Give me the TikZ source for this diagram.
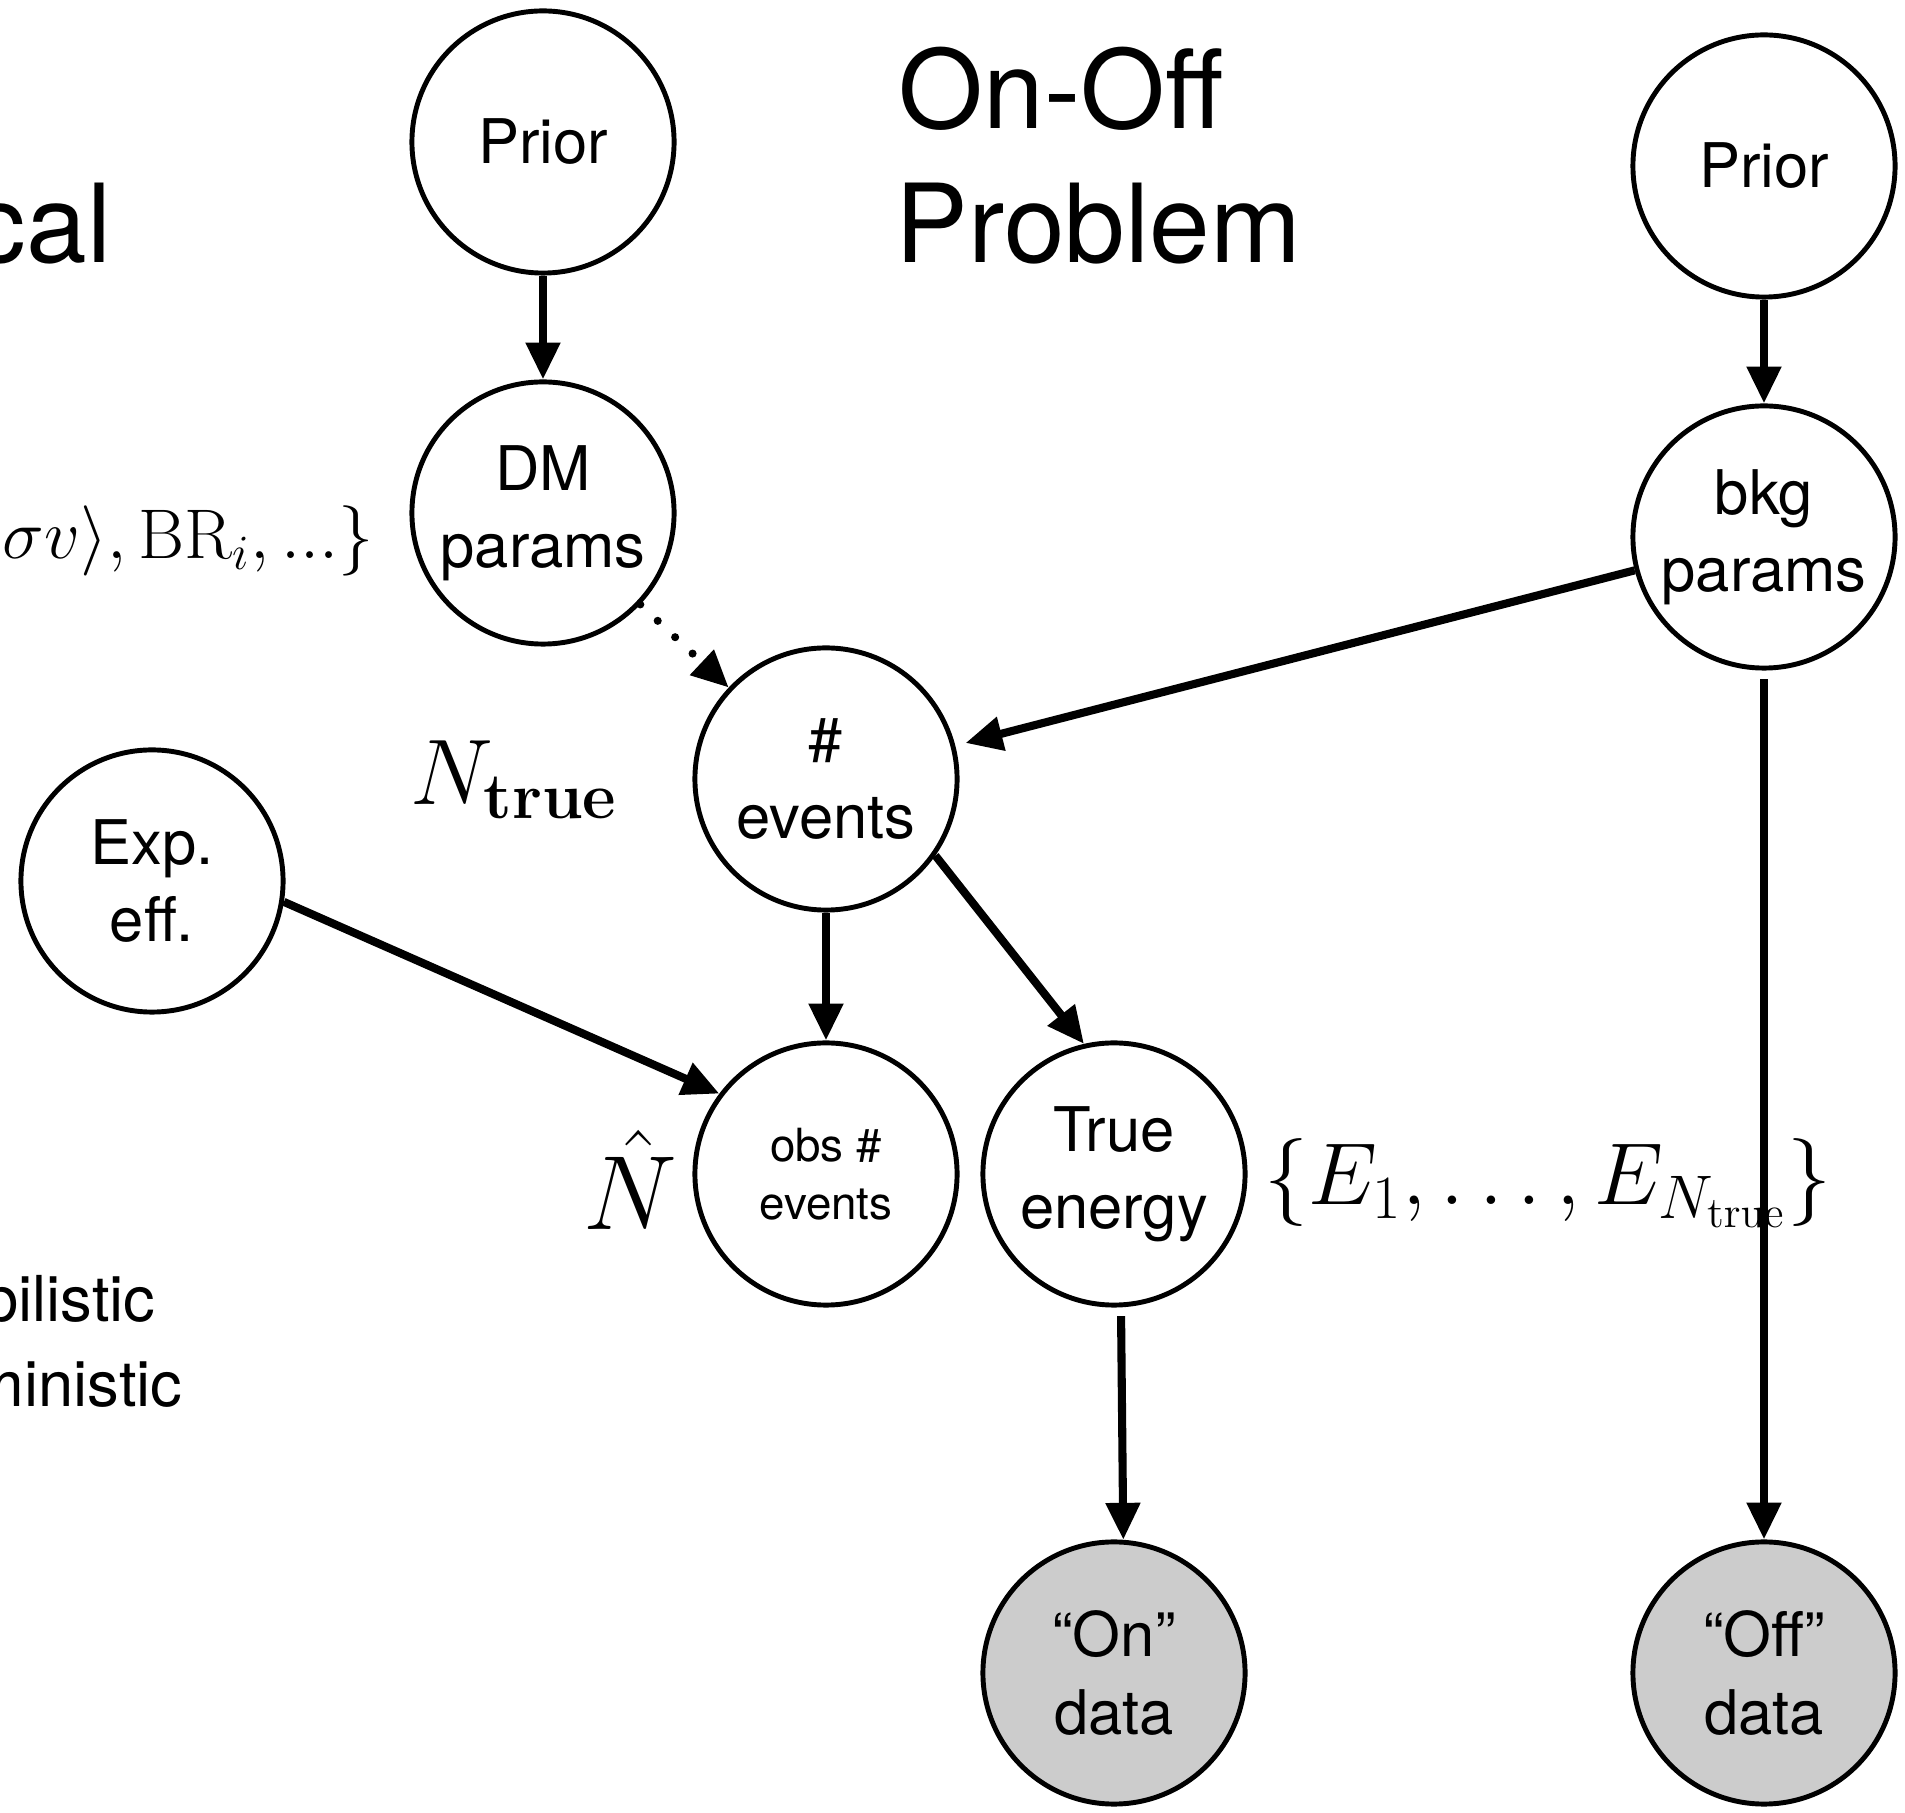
\RequirePackage{fix-cm}
\documentclass[tikz,border=0pt]{standalone}
\usepackage[no-math]{fontspec}
\newfontfamily\hel{TeX Gyre Heros}
\usetikzlibrary{arrows.meta}
\definecolor{obsgray}{RGB}{204,204,204}
\begin{document}
\begin{tikzpicture}[x=0.01cm,y=-0.01cm,
  var/.style={circle,draw,line width=1.4pt,minimum size=2.62cm,inner sep=0pt,align=center,
    font=\hel\fontsize{17.5}{22}\selectfont},
  obsv/.style={var,fill=obsgray},
  arr/.style={line width=2.3pt,-{Triangle[length=10.5pt,width=9.4pt]}},
  dotarr/.style={arr,line cap=round,dash pattern=on 0pt off 6.8pt},
  lbl/.style={inner sep=0pt},
  bigtxt/.style={lbl,font=\hel\fontsize{31}{38}\selectfont},
  midtxt/.style={lbl,font=\hel\fontsize{18}{22}\selectfont}]
\useasboundingbox (0,0) rectangle (1905,1813);

% text labels
\node[bigtxt,anchor=base east] (cal) at (112,263) {cal};
\node[bigtxt,anchor=base west] (t1) at (898,129) {On-Off};
\node[bigtxt,anchor=base west] (t2) at (895,263) {Problem};
\node[lbl,anchor=base west,font=\fontsize{20}{24}\selectfont] (dmpar) at (2,559) {$\sigma v\rangle, \mathrm{BR}_i, ...\}$};
\node[lbl,anchor=base west,font=\fontsize{26.5}{30}\selectfont] (ntrue) at (410,805) {$N_{\mathbf{true}}$};
\node[lbl,anchor=base west,font=\fontsize{30}{34}\selectfont] (nhat) at (583,1230) {$\hat N$};
\node[lbl,anchor=base west,font=\fontsize{25}{30}\selectfont] (eset) at (1264,1205) {$\{E_1,\ldots,E_{N_{\mathrm{true}}}\}$};
\node[midtxt,anchor=base east] (prob) at (156,1322) {bilistic};
\node[midtxt,anchor=base east] (det) at (183,1407) {ministic};

% nodes
\node[var] (p1) at (543,142) {Prior};
\node[var] (dm) at (543,513) {DM\\params};
\node[var] (p2) at (1764,166) {Prior};
\node[var] (bkg) at (1764,537) {bkg\\params};
\node[var] (ev) at (826,779) {\#\\events};
\node[var] (exp) at (152,881) {Exp.\\eff.};
\node[var,font=\hel\fontsize{13}{16.5}\selectfont] (obs) at (826,1174) {obs \#\\events};
\node[var] (te) at (1114,1174) {True\\energy};
\node[obsv] (on) at (1114,1673) {“On”\\data};
\node[obsv] (off) at (1764,1673) {“Off”\\data};

% connectors
\draw[arr] (p1) -- (dm);
\draw[arr] (p2) -- (bkg);
\draw[dotarr] (dm) -- (ev);
\draw[arr,shorten >=3pt] (bkg) -- (ev);
\draw[arr] (ev) -- (obs);
\draw[arr] (ev.-35) -- (te.103);
\draw[arr] (exp.-9) -- (obs.143);
\draw[arr,shorten <=2.5pt] (te.-87.5) -- (on.86);
\draw[arr,shorten <=2.5pt] (bkg) -- (off);
\end{tikzpicture}
\end{document}
